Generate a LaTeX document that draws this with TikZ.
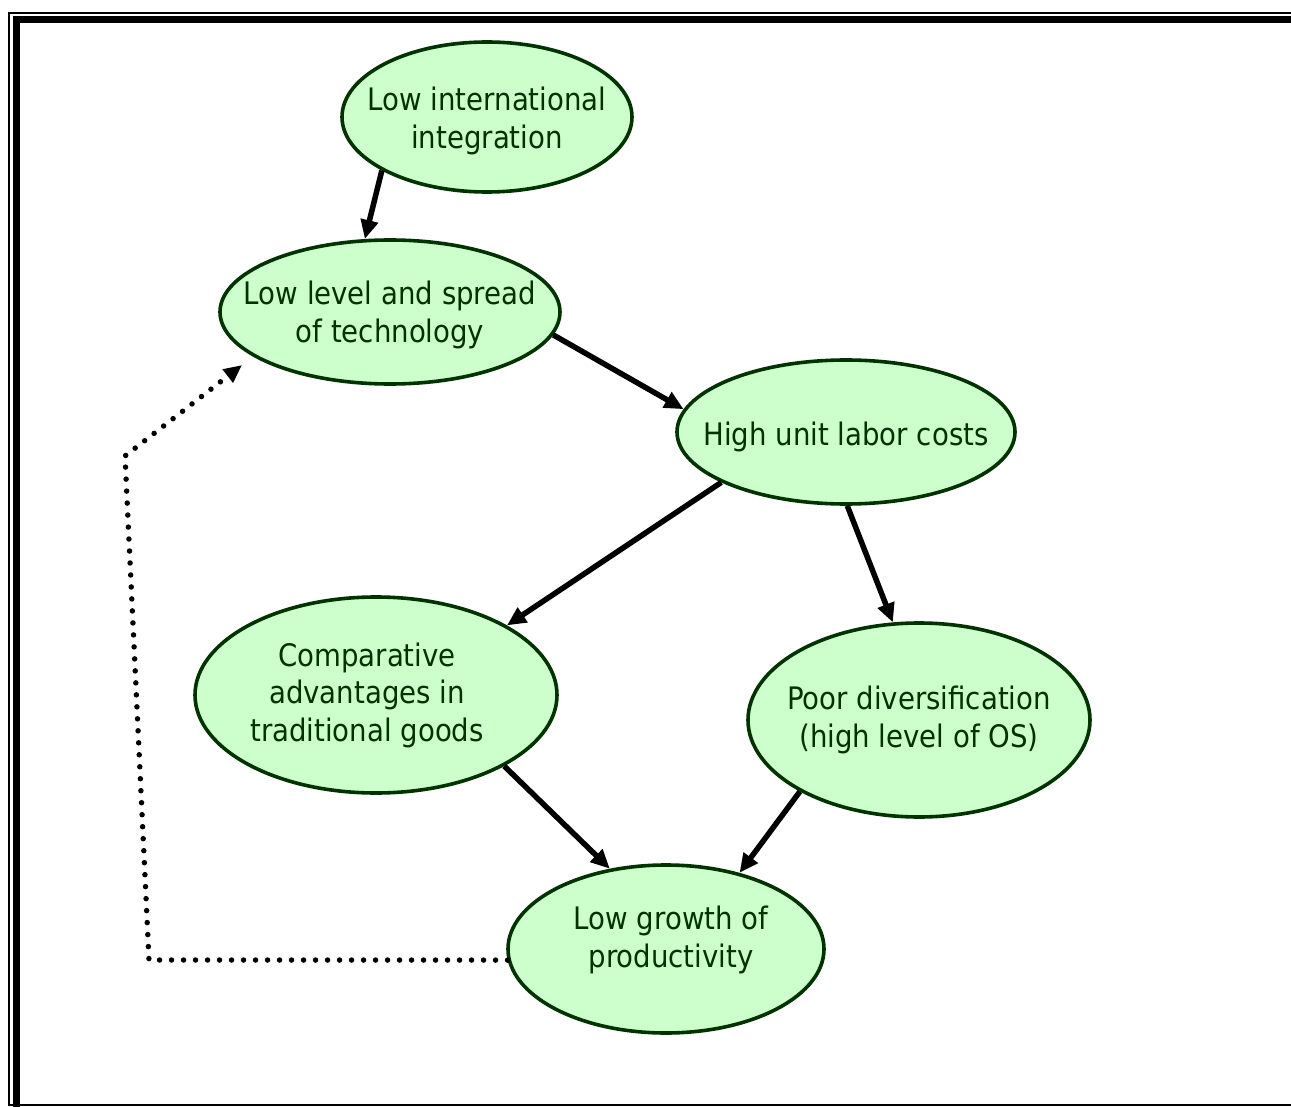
\documentclass[tikz,border=0pt]{standalone}
\usepackage{fontspec}
\setmainfont{DejaVu Sans}[FakeStretch=0.89]
\usepackage{xcolor}
\usepackage{tikz}
\usetikzlibrary{shapes.geometric, arrows.meta}

\definecolor{bubfill}{HTML}{CCFFCC}
\definecolor{bubline}{HTML}{003300}

\begin{document}
\begin{tikzpicture}[
  x=1pt, y=-1pt,
  bubble/.style={ellipse, draw=bubline, fill=bubfill, line width=3.6pt, inner sep=0pt},
  bubtext/.style={text=bubline, align=center, inner sep=0pt,
                  font=\fontsize{31}{37.5}\selectfont},
  arrow/.style={-{Triangle[length=19pt, width=17pt]}, line width=5.5pt, black},
  feedback/.style={-{Triangle[length=18pt, width=16pt]}, line width=5.5pt,
                   line cap=round, dash pattern=on 0pt off 12pt, shorten >=14pt}
]
\useasboundingbox (0,0) rectangle (1291,1107);

% page frame
\draw[line width=2pt] (9,13) rectangle (1320,1105);
\draw[line width=7pt] (16.5,20) rectangle (1320,1125);

\node[bubble, minimum width=290pt, minimum height=150pt,
      label={[bubtext, yshift=-4pt]center:Low international\\integration}] (intl) at (487,117) {};
\node[bubble, minimum width=340pt, minimum height=144pt,
      label={[bubtext, yshift=-3pt]center:Low level and spread\\of technology}] (tech) at (390,312) {};
\node[bubble, minimum width=338pt, minimum height=144pt,
      label={[bubtext, yshift=-5pt]center:High unit labor costs}] (ulc) at (846,432) {};
\node[bubble, minimum width=362pt, minimum height=196pt,
      label={[bubtext, xshift=-9pt]center:Comparative\\advantages in\\traditional goods}] (comp) at (376,695) {};
\node[bubble, minimum width=342pt, minimum height=194pt,
      label={[bubtext]center:Poor diversification\\(high level of OS)}] (div) at (919,720) {};
\node[bubble, minimum width=316pt, minimum height=168pt,
      label={[bubtext, xshift=5pt, yshift=9pt]center:Low growth of\\productivity}] (prod) at (666,949) {};

\draw[arrow] (intl.207) -- (tech.109);
\draw[arrow] (tech.-8) -- (ulc.172);
\draw[arrow] (ulc.202) -- (comp.28);
\draw[arrow] (ulc.-89) -- (div.105);
\draw[arrow] (comp.-29) -- (prod.125);
\draw[arrow] (div.211) -- (prod.46);

% feedback loop
\coordinate (fbl) at (149,960);
\coordinate (ftl) at (125,456);
\draw[feedback] (prod.184) -- (fbl) -- (ftl) -- (tech.198);

\end{tikzpicture}
\end{document}
